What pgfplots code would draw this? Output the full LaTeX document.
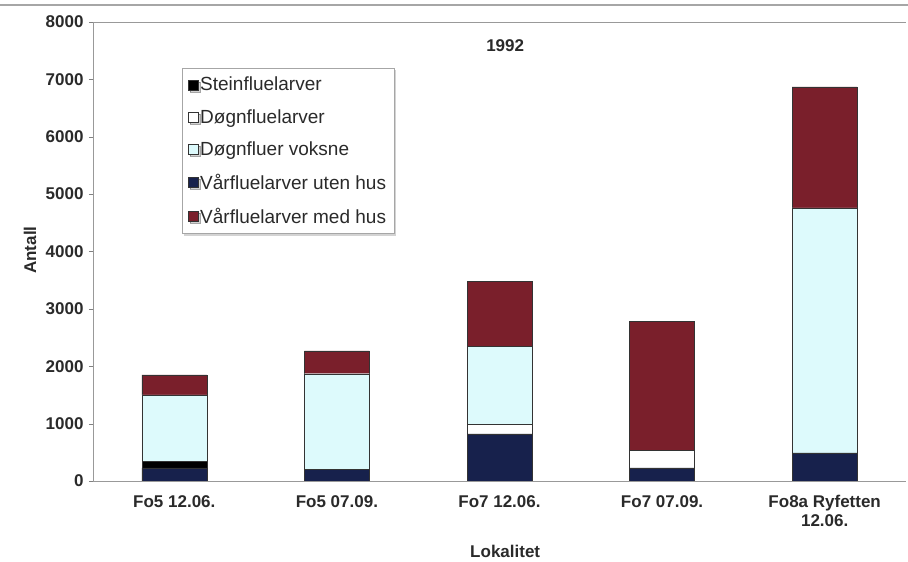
\documentclass[border=0pt]{standalone}
\usepackage{pgfplots}
\pgfplotsset{compat=1.18}
\usepackage{fontspec}
\setmainfont{Liberation Sans}
\usetikzlibrary{shadows}
\definecolor{maroon}{HTML}{7A1F2B}
\definecolor{navyb}{HTML}{17214C}
\definecolor{lcyan}{HTML}{DDFAFC}
\definecolor{txt}{HTML}{2A2A2A}
\begin{document}
\begin{tikzpicture}
\path[use as bounding box] (0pt,0pt) rectangle (908pt,562pt);
\draw[gray!70, line width=1.2pt] (0pt,557pt) -- (908pt,557pt);
\begin{axis}[
  at={(93pt,81pt)}, anchor=south west,
  scale only axis, width=813pt, height=459pt,
  ybar stacked, bar width=65pt,
  xmin=-0.5, xmax=4.5, ymin=0, ymax=8000,
  xtick={0,1,2,3,4},
  xticklabels={Fo5 12.06., Fo5 07.09., Fo7 12.06., Fo7 07.09., {Fo8a Ryfetten\\12.06.}},
  x tick label style={align=center, font=\fontsize{17}{19}\selectfont\bfseries, text=txt, anchor=north, yshift=-7pt},
  extra x ticks={0.5,1.5,2.5,3.5}, extra x tick labels={},
  extra x tick style={major tick length=5pt, tick align=outside, tick style={gray}},
  major x tick style={draw=none},
  ytick={0,1000,...,8000},
  y tick label style={font=\fontsize{17}{19}\selectfont\bfseries, text=txt, xshift=-2pt},
  /pgf/number format/assume math mode=true,
  scaled y ticks=false, yticklabel style={/pgf/number format/1000 sep={}},
  y tick style={gray}, tick align=outside, major tick length=4pt,
  axis x line*=bottom, axis y line*=left,
  axis line style={gray!80, line width=0.8pt},
  xlabel={Lokalitet}, ylabel={Antall},
  xlabel style={font=\fontsize{17}{19}\selectfont\bfseries, text=txt, at={(axis description cs:0.507,-0.1525)}, anchor=center},
  ylabel style={font=\fontsize{17}{19}\selectfont\bfseries, text=txt, at={(axis description cs:-0.0775,0.503)}, anchor=center},
  title={1992}, title style={font=\fontsize{17}{19}\selectfont\bfseries, text=txt, at={(axis description cs:0.507,0.935)}, anchor=center},
]
\draw[gray!80, line width=0.8pt] (rel axis cs:0,1) -- (rel axis cs:1,1);
% bottom to top
\addplot[fill=navyb, draw=black!80] coordinates {(0,230) (1,200) (2,820) (3,230) (4,490)};
\addplot[fill=black, draw=black!80] coordinates {(0,120) (1,0) (2,0) (3,0) (4,0)};
\addplot[fill=white, draw=black!80] coordinates {(0,0) (1,0) (2,170) (3,310) (4,0)};
\addplot[fill=lcyan, draw=black!80] coordinates {(0,1150) (1,1670) (2,1360) (3,0) (4,4270)};
\addplot[fill=maroon, draw=black!80] coordinates {(0,350) (1,400) (2,1130) (3,2240) (4,2110)};
\end{axis}
\begin{axis}[
  at={(93pt,81pt)}, anchor=south west,
  scale only axis, width=813pt, height=459pt,
  hide axis, xmin=0, xmax=1, ymin=0, ymax=1,
  legend style={at={(rel axis cs:0.109,0.9)}, anchor=north west, draw=gray!70,
    font=\fontsize{19}{20}\selectfont, text=txt, row sep=13pt, inner xsep=6pt, inner ysep=7pt,
    drop shadow={opacity=0.35, shadow xshift=2pt, shadow yshift=-2pt}, fill=white},
  legend cell align=left,
  legend image code/.code={\draw[#1,draw=black!80] (0pt,-5pt) rectangle (10pt,5pt);},
]
\addlegendimage{fill=black}
\addlegendentry{Steinfluelarver}
\addlegendimage{fill=white}
\addlegendentry{Døgnfluelarver}
\addlegendimage{fill=lcyan}
\addlegendentry{Døgnfluer voksne}
\addlegendimage{fill=navyb}
\addlegendentry{Vårfluelarver uten hus}
\addlegendimage{fill=maroon}
\addlegendentry{Vårfluelarver med hus}
\end{axis}
\end{tikzpicture}
\end{document}
